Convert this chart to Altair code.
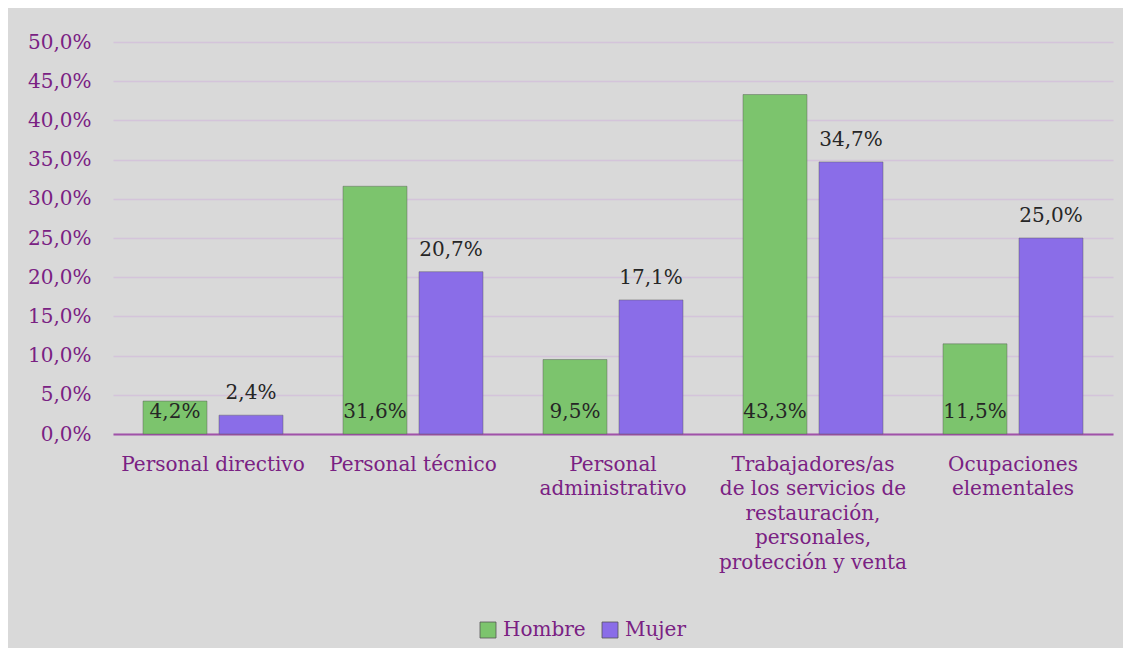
import altair as alt
import pandas as pd

categories = [
    "Personal directivo",
    "Personal técnico",
    "Personal|administrativo",
    "Trabajadores/as|de los servicios de|restauración,|personales,|protección y venta",
    "Ocupaciones|elementales",
]
series = ["Hombre", "Mujer"]
hombre = [0.042, 0.316, 0.095, 0.433, 0.115]
mujer = [0.024, 0.207, 0.171, 0.347, 0.250]
y_ticks = [0.0, 0.05, 0.10, 0.15, 0.20, 0.25, 0.30, 0.35, 0.40, 0.45, 0.50]

rows = []
for c, h, m in zip(categories, hombre, mujer):
    rows.append({"cat": c, "serie": "Hombre", "value": h})
    rows.append({"cat": c, "serie": "Mujer", "value": m})
df = pd.DataFrame(rows)

FONT = "DejaVu Serif"
PURPLE_TXT = "#7a2183"

x = alt.X(
    "cat:N",
    sort=categories,
    title=None,
    scale=alt.Scale(paddingInner=0.3, paddingOuter=0.15),
    axis=alt.Axis(
        labelExpr="split(datum.label, '|')",
        labelAngle=0,
        labelColor=PURPLE_TXT,
        labelFont=FONT,
        labelFontSize=20,
        labelLineHeight=24.5,
        labelPadding=20,
        labelLimit=400,
        labelOverlap=False,
        ticks=False,
        domainColor="#a052a8",
        domainWidth=2,
        grid=False,
    ),
)
xo = alt.XOffset("serie:N", sort=series, scale=alt.Scale(paddingInner=0.158, paddingOuter=0))
y = alt.Y(
    "value:Q",
    title=None,
    scale=alt.Scale(domain=[0, 0.5], nice=False),
    axis=alt.Axis(
        values=y_ticks,
        tickCount=11,
        labelExpr="replace(format(datum.value, '.1%'), '.', ',')",
        labelColor=PURPLE_TXT,
        labelFont=FONT,
        labelFontSize=20,
        labelPadding=22,
        labelOverlap=False,
        ticks=False,
        domain=False,
        gridColor="#d4c4da",
        gridWidth=1.5,
    ),
)

color = alt.Color(
    "serie:N",
    sort=series,
    scale=alt.Scale(domain=series, range=["#7cc46d", "#8a6de8"]),
    legend=alt.Legend(
        title=None,
        orient="none",
        legendX=365,
        legendY=578,
        direction="horizontal",
        symbolType="square",
        symbolSize=256,
        symbolStrokeColor="#555555",
        symbolStrokeWidth=0.8,
        labelFont=FONT,
        labelFontSize=20,
        labelColor=PURPLE_TXT,
        labelOffset=5,
        columnPadding=14,
        padding=0,
    ),
)

base = alt.Chart(df).transform_calculate(
    lbl="replace(format(datum.value, '.1%'), '.', ',')"
)

bars = base.mark_bar(stroke="#5a5a5a", strokeOpacity=0.45, strokeWidth=1).encode(
    x=x, xOffset=xo, y=y, color=color
)

text_h = base.transform_filter("datum.serie == 'Hombre'").mark_text(
    font=FONT, fontSize=20, color="#262626", baseline="alphabetic", dy=-16
).encode(
    x=x,
    xOffset=xo,
    y=alt.value(392),
    text="lbl:N",
)

text_m = base.transform_filter("datum.serie == 'Mujer'").mark_text(
    font=FONT, fontSize=20, color="#262626", baseline="alphabetic", dy=-16
).encode(
    x=x,
    xOffset=xo,
    y=y,
    text="lbl:N",
)

chart = (
    alt.layer(bars, text_h, text_m)
    .properties(
        width=1000,
        height=392,
        autosize=alt.AutoSizeParams(type="none"),
        padding={"left": 105, "top": 34, "right": 10, "bottom": 214},
        background="#d9d9d9",
    )
    .configure_view(stroke=None)
)

chart.save("out.html", embed_options={"renderer": "svg", "actions": False})
